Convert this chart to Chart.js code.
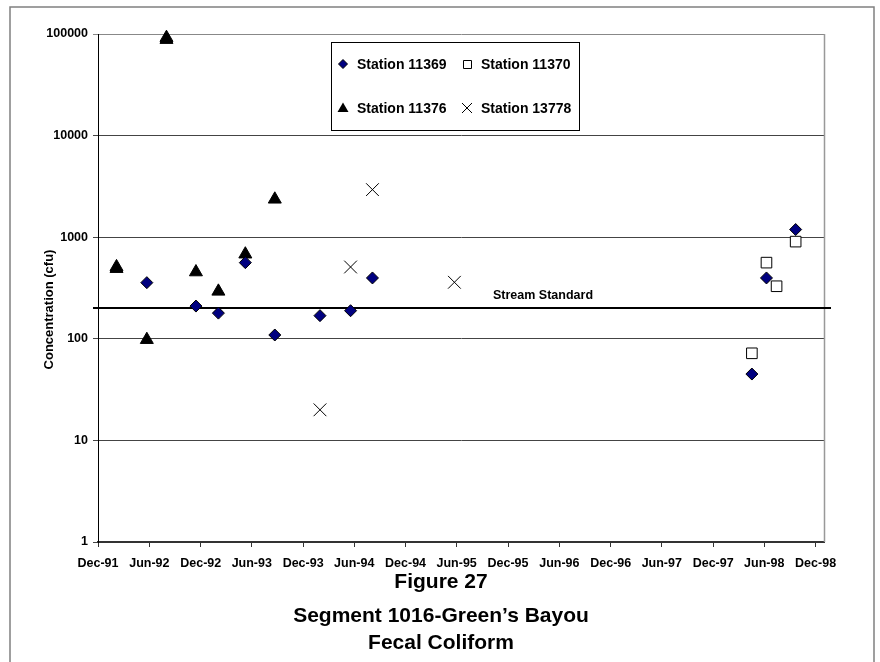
<!DOCTYPE html>
<html>
<head>
<meta charset="utf-8">
<script src="https://cdn.jsdelivr.net/npm/chart.js@4.4.0/dist/chart.umd.min.js"></script>
<style>
  html, body { margin: 0; padding: 0; background: #fff; }
  #wrap { width: 880px; height: 662px; }
</style>
</head>
<body>
<div id="wrap"><canvas id="chart" width="880" height="662"></canvas></div>
<script>
// axis ticks
const tickDates = ['1991-12-01', '1992-06-01', '1992-12-01', '1993-06-01', '1993-12-01', '1994-06-01', '1994-12-01',
    '1995-06-01', '1995-12-01', '1996-06-01', '1996-12-01', '1997-06-01', '1997-12-01', '1998-06-01', '1998-12-01'];
const tickLabels = ['Dec-91', 'Jun-92', 'Dec-92', 'Jun-93', 'Dec-93', 'Jun-94', 'Dec-94',
    'Jun-95', 'Dec-95', 'Jun-96', 'Dec-96', 'Jun-97', 'Dec-97', 'Jun-98', 'Dec-98'];
const yTicks = [1, 10, 100, 1000, 10000, 100000];

// Station 11369
const st11369Dates = ['1992-05-23', '1992-11-14', '1993-02-02', '1993-05-09', '1993-08-22', '1994-01-30',
    '1994-05-19', '1994-08-05', '1998-04-18', '1998-06-09', '1998-09-21'];
const st11369Values = [357, 210, 179, 562, 109, 169, 189, 397, 45, 397, 1190];

// Station 11370
const st11370Dates = ['1998-04-18', '1998-06-09', '1998-07-15', '1998-09-21'];
const st11370Values = [72, 562, 329, 905];

// Station 11376
const st11376Dates = ['1992-02-05', '1992-02-05', '1992-05-23', '1992-08-01', '1992-08-01', '1992-11-14',
    '1993-02-02', '1993-05-09', '1993-08-22'];
const st11376Values = [510, 490, 98, 92000, 88000, 454, 293, 680, 2360];

// Station 13778
const st13778Dates = ['1994-01-30', '1994-05-19', '1994-08-05', '1995-05-24'];
const st13778Values = [20, 509, 2940, 360];

const streamStandard = 200;

function dayNum(s) {
    const p = s.split('-').map(Number);
    return Date.UTC(p[0], p[1] - 1, p[2]) / 86400000;
}
function pts(dates, vals) {
    return dates.map((d, i) => ({ x: dayNum(d), y: vals[i] }));
}

const tickDays = tickDates.map(dayNum);
const FONT = 'Arial, "Liberation Sans", sans-serif';

// background, outer frame, stream standard line, plot frame, legend and caption
const extras = {
    id: 'extras',
    beforeDraw(chart) {
        const c = chart.ctx;
        c.save();
        c.fillStyle = '#fff';
        c.fillRect(0, 0, chart.width, chart.height);
        c.strokeStyle = '#808080';
        c.lineWidth = 1.5;
        c.beginPath();
        c.moveTo(10, 662);
        c.lineTo(10, 7);
        c.lineTo(874, 7);
        c.lineTo(874, 662);
        c.stroke();
        // y axis title
        c.translate(49, 309.5);
        c.rotate(-Math.PI / 2);
        c.fillStyle = '#000';
        c.font = 'bold 13px ' + FONT;
        c.textAlign = 'center';
        c.textBaseline = 'middle';
        c.fillText('Concentration (cfu)', 0, 0);
        c.restore();
    },
    beforeDatasetsDraw(chart) {
        const c = chart.ctx;
        const a = chart.chartArea;
        const y = Math.round(chart.scales.y.getPixelForValue(streamStandard));
        c.save();
        c.strokeStyle = '#999';
        c.lineWidth = 1.5;
        c.beginPath();
        c.moveTo(a.right + 0.5, a.top);
        c.lineTo(a.right + 0.5, a.bottom);
        c.stroke();
        c.strokeStyle = '#000';
        c.lineWidth = 2;
        c.beginPath();
        c.moveTo(a.left - 5, y);
        c.lineTo(a.right + 7, y);
        c.stroke();
        c.fillStyle = '#000';
        c.font = 'bold 12.5px ' + FONT;
        c.textBaseline = 'middle';
        c.fillText('Stream Standard', 493, y - 12);
        c.restore();
    },
    afterDraw(chart) {
        const c = chart.ctx;
        c.save();
        // legend
        c.fillStyle = '#fff';
        c.fillRect(331, 42, 248, 88);
        c.strokeStyle = '#000';
        c.lineWidth = 1;
        c.strokeRect(331.5, 42.5, 248, 88);
        const items = [
            ['Station 11369', 'rectRot', 343, 64],
            ['Station 11370', 'rect', 467, 64],
            ['Station 11376', 'triangle', 343, 108],
            ['Station 13778', 'crossRot', 467, 108]
        ];
        c.font = 'bold 14px ' + FONT;
        c.textBaseline = 'middle';
        items.forEach(([label, shape, x, y]) => {
            c.beginPath();
            c.lineWidth = 1;
            c.strokeStyle = '#000';
            if (shape === 'rectRot') {
                c.moveTo(x - 4.5, y); c.lineTo(x, y - 4.5); c.lineTo(x + 4.5, y); c.lineTo(x, y + 4.5); c.closePath();
                c.fillStyle = '#000080'; c.fill(); c.stroke();
            } else if (shape === 'rect') {
                c.rect(x - 3.5, y - 3.5, 8, 8);
                c.fillStyle = '#fff'; c.fill(); c.stroke();
            } else if (shape === 'triangle') {
                c.moveTo(x, y - 5.5); c.lineTo(x + 5.5, y + 4); c.lineTo(x - 5.5, y + 4); c.closePath();
                c.fillStyle = '#000'; c.fill();
            } else {
                c.moveTo(x - 5, y - 5); c.lineTo(x + 5, y + 5);
                c.moveTo(x + 5, y - 5); c.lineTo(x - 5, y + 5);
                c.stroke();
            }
            c.fillStyle = '#000';
            c.fillText(label, x + 14, y + 1);
        });
        // caption
        c.font = 'bold 21px ' + FONT;
        c.textAlign = 'center';
        c.textBaseline = 'alphabetic';
        c.fillText('Figure 27', 441, 588);
        c.fillText('Segment 1016-Green\u2019s Bayou', 441, 622);
        c.fillText('Fecal Coliform', 441, 649);
        c.restore();
    }
};

new Chart(document.getElementById('chart'), {
    type: 'scatter',
    data: {
        datasets: [
            {
                label: 'Station 11369',
                data: pts(st11369Dates, st11369Values),
                pointStyle: 'rectRot',
                pointRadius: 6,
                backgroundColor: '#000080',
                borderColor: '#000',
                borderWidth: 1,
                clip: false
            },
            {
                label: 'Station 11370',
                data: pts(st11370Dates, st11370Values),
                pointStyle: 'rect',
                pointRadius: 7.5,
                backgroundColor: '#fff',
                borderColor: '#000',
                borderWidth: 1,
                clip: false
            },
            {
                label: 'Station 11376',
                data: pts(st11376Dates, st11376Values),
                pointStyle: 'triangle',
                pointRadius: 7.5,
                backgroundColor: '#000',
                borderColor: '#000',
                borderWidth: 1,
                clip: false
            },
            {
                label: 'Station 13778',
                data: pts(st13778Dates, st13778Values),
                pointStyle: 'crossRot',
                pointRadius: 9,
                backgroundColor: '#000',
                borderColor: '#000',
                borderWidth: 1,
                clip: false
            }
        ]
    },
    options: {
        responsive: false,
        animation: false,
        layout: { padding: { top: 34, right: 56, bottom: 0, left: 0 } },
        plugins: {
            legend: { display: false },
            tooltip: { enabled: false }
        },
        scales: {
            x: {
                type: 'linear',
                min: dayNum('1991-12-01'),
                max: dayNum('1998-12-31'),
                afterBuildTicks: s => { s.ticks = tickDays.map(v => ({ value: v })); },
                afterFit: s => { s.height = 120; },
                ticks: {
                    autoSkip: false,
                    maxRotation: 0,
                    padding: 9,
                    color: '#000',
                    font: { family: FONT, size: 12.5, weight: 'bold' },
                    callback: (v) => tickLabels[tickDays.indexOf(v)]
                },
                grid: { drawOnChartArea: false, drawTicks: true, tickLength: 5, color: '#333' },
                border: { display: true, color: '#333', width: 2 }
            },
            y: {
                type: 'logarithmic',
                min: 1,
                max: 100000,
                afterBuildTicks: s => { s.ticks = yTicks.map(v => ({ value: v })); },
                afterFit: s => { s.width = 98; },
                ticks: {
                    padding: 5,
                    color: '#000',
                    font: { family: FONT, size: 12.5, weight: 'bold' },
                    callback: v => String(v)
                },
                grid: {
                    color: c => (c.tick && c.tick.value === 100000 ? '#888' : '#444'),
                    tickLength: 5,
                    lineWidth: 1
                },
                border: { display: true, color: '#000', width: 1 }
            }
        }
    },
    plugins: [extras]
});
</script>
</body>
</html>
